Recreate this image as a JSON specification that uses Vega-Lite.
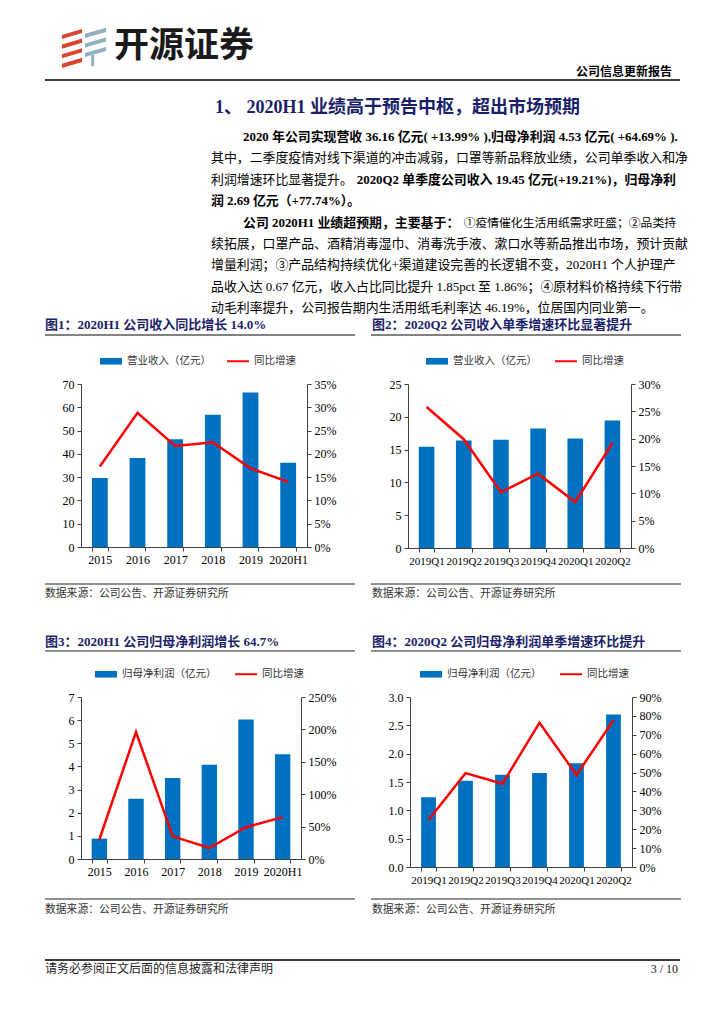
{
  "$schema": "https://vega.github.io/schema/vega-lite/v6.json",
  "padding": 0,
  "spacing": 0,
  "columns": 1,
  "align": "none",
  "background": "white",
  "resolve": {"scale": {"color": "independent"}, "legend": {"color": "independent"}},
  "config": {
    "view": {"stroke": null},
    "font": "Liberation Serif, Noto Sans CJK SC",
    "axis": {"grid": false, "domainColor": "#404040", "tickColor": "#404040", "labelFont": "Liberation Serif", "labelFontSize": 12, "labelColor": "#000000", "tickSize": 4, "labelPadding": 3},
    "concat": {"spacing": 0}
  },
  "concat": [
    {
      "width": 643,
      "height": 350,
      "resolve": {"scale": {"x": "independent", "y": "independent"}},
      "layer": [
        {
          "data": {"values": [{"k": "icon"}]},
          "mark": {"type": "point", "shape": "M-0.92,-0.5L-0.08,-0.75L-0.08,-0.58L-0.92,-0.33ZM-0.92,-0.1L-0.08,-0.35L-0.08,-0.18L-0.92,0.07ZM-0.92,0.3L-0.08,0.05L-0.08,0.22L-0.92,0.47ZM-0.92,0.7L-0.08,0.45L-0.08,0.62L-0.92,0.87Z", "size": 2304, "filled": true, "color": "#d9452f", "opacity": 1, "strokeWidth": 0},
          "encoding": {
            "x": {"field": "k", "type": "nominal", "scale": {"type": "point", "range": [3, 3]}, "axis": null},
            "y": {"field": "k", "type": "nominal", "scale": {"type": "point", "range": [47, 47]}, "axis": null}
          }
        },
        {
          "data": {"values": [{"k": "icon"}]},
          "mark": {"type": "point", "shape": "M0.04,-0.55L0.92,-0.8L0.92,-0.63L0.04,-0.38ZM0.04,-0.15L0.92,-0.4L0.92,-0.23L0.04,0.02ZM0.04,0.25L0.92,0L0.92,0.17L0.04,0.42ZM0.3,0.35L0.42,0.32L0.42,0.8L0.3,0.8Z", "size": 2304, "filled": true, "color": "#93afc0", "opacity": 1, "strokeWidth": 0},
          "encoding": {
            "x": {"field": "k", "type": "nominal", "scale": {"type": "point", "range": [3, 3]}, "axis": null},
            "y": {"field": "k", "type": "nominal", "scale": {"type": "point", "range": [47, 47]}, "axis": null}
          }
        },
        {
          "data": {"values": [{"k": "logo", "t": "开源证券"}]},
          "mark": {"type": "text", "align": "left", "baseline": "middle", "font": "Noto Sans CJK SC", "fontSize": 35, "fontWeight": "bold", "color": "#1a1a1a"},
          "encoding": {
            "x": {"field": "k", "type": "nominal", "scale": {"type": "point", "range": [33, 33]}, "axis": null},
            "y": {"field": "k", "type": "nominal", "scale": {"type": "point", "range": [46, 46]}, "axis": null},
            "text": {"field": "t"}
          }
        },
        {
          "data": {"values": [{"k": "type", "t": "公司信息更新报告"}]},
          "mark": {"type": "text", "align": "right", "baseline": "middle", "font": "Noto Sans CJK SC", "fontSize": 12, "fontWeight": "bold", "color": "#000000"},
          "encoding": {
            "x": {"field": "k", "type": "nominal", "scale": {"type": "point", "range": [591, 591]}, "axis": null},
            "y": {"field": "k", "type": "nominal", "scale": {"type": "point", "range": [72, 72]}, "axis": null},
            "text": {"field": "t"}
          }
        },
        {
          "data": {"values": [{"k": "rule"}]},
          "mark": {"type": "tick", "orient": "horizontal", "size": 635, "thickness": 1.5, "color": "#000000", "opacity": 1},
          "encoding": {
            "x": {"field": "k", "type": "nominal", "scale": {"type": "point", "range": [281.5, 281.5]}, "axis": null},
            "y": {"field": "k", "type": "nominal", "scale": {"type": "point", "range": [80, 80]}, "axis": null}
          }
        },
        {
          "data": {"values": [{"k": "title", "t": "1、 2020H1 业绩高于预告中枢，超出市场预期"}]},
          "mark": {"type": "text", "align": "left", "baseline": "middle", "fontSize": 18, "fontWeight": "bold", "color": "#1b1f6b"},
          "encoding": {
            "x": {"field": "k", "type": "nominal", "scale": {"type": "point", "range": [134, 134]}, "axis": null},
            "y": {"field": "k", "type": "nominal", "scale": {"type": "point", "range": [108, 108]}, "axis": null},
            "text": {"field": "t"}
          }
        },
        {
          "data": {"values": [
            {"ln": "L2", "pos": "start", "t": "其中，二季度疫情对线下渠道的冲击减弱，口罩等新品释放业绩，公司单季收入和净"},
            {"ln": "L3", "pos": "start", "t": "利润增速环比显著提升。"},
            {"ln": "L6", "pos": "start", "t": "续拓展，口罩产品、酒精消毒湿巾、消毒洗手液、漱口水等新品推出市场，预计贡献"},
            {"ln": "L7", "pos": "start", "t": "增量利润；③产品结构持续优化+渠道建设完善的长逻辑不变，2020H1 个人护理产"},
            {"ln": "L8", "pos": "start", "t": "品收入达 0.67 亿元，收入占比同比提升 1.85pct 至 1.86%；④原材料价格持续下行带"},
            {"ln": "L9", "pos": "start", "t": "动毛利率提升，公司报告期内生活用纸毛利率达 46.19%，位居国内同业第一。"}
          ]},
          "mark": {"type": "text", "align": "left", "baseline": "middle", "fontSize": 12.9, "color": "#000000"},
          "encoding": {
            "x": {"field": "pos", "type": "nominal", "scale": {"type": "point", "domain": ["start", "indent"], "range": [130, 162], "padding": 0}, "axis": null},
            "y": {"field": "ln", "type": "nominal", "scale": {"type": "point", "domain": ["L1", "L2", "L3", "L4", "L5", "L6", "L7", "L8", "L9"], "range": [137, 308], "padding": 0}, "axis": null},
            "text": {"field": "t"}
          }
        },
        {
          "data": {"values": [
            {"ln": "L1", "pos": "indent", "t": "2020 年公司实现营收 36.16 亿元( +13.99% ),归母净利润 4.53 亿元( +64.69% )."},
            {"ln": "L4", "pos": "start", "t": "润 2.69 亿元（+77.74%）。"},
            {"ln": "L5", "pos": "indent", "t": "公司 2020H1 业绩超预期，主要基于："}
          ]},
          "mark": {"type": "text", "align": "left", "baseline": "middle", "fontSize": 12.9, "fontWeight": "bold", "color": "#000000"},
          "encoding": {
            "x": {"field": "pos", "type": "nominal", "scale": {"type": "point", "domain": ["start", "indent"], "range": [130, 162], "padding": 0}, "axis": null},
            "y": {"field": "ln", "type": "nominal", "scale": {"type": "point", "domain": ["L1", "L2", "L3", "L4", "L5", "L6", "L7", "L8", "L9"], "range": [137, 308], "padding": 0}, "axis": null},
            "text": {"field": "t"}
          }
        },
        {
          "data": {"values": [
            {"ln": "L3", "pos": "end", "t": "2020Q2 单季度公司收入 19.45 亿元(+19.21%)，归母净利"}
          ]},
          "mark": {"type": "text", "align": "right", "baseline": "middle", "fontSize": 12.9, "fontWeight": "bold", "color": "#000000"},
          "encoding": {
            "x": {"field": "pos", "type": "nominal", "scale": {"type": "point", "range": [595, 595]}, "axis": null},
            "y": {"field": "ln", "type": "nominal", "scale": {"type": "point", "domain": ["L1", "L2", "L3", "L4", "L5", "L6", "L7", "L8", "L9"], "range": [137, 308], "padding": 0}, "axis": null},
            "text": {"field": "t"}
          }
        },
        {
          "data": {"values": [
            {"ln": "L5", "pos": "end", "t": "①疫情催化生活用纸需求旺盛；②品类持"}
          ]},
          "mark": {"type": "text", "align": "right", "baseline": "middle", "fontSize": 11.8, "color": "#000000"},
          "encoding": {
            "x": {"field": "pos", "type": "nominal", "scale": {"type": "point", "range": [595, 595]}, "axis": null},
            "y": {"field": "ln", "type": "nominal", "scale": {"type": "point", "domain": ["L1", "L2", "L3", "L4", "L5", "L6", "L7", "L8", "L9"], "range": [137, 308], "padding": 0}, "axis": null},
            "text": {"field": "t"}
          }
        },
        {
          "data": {"values": [
            {"p": "L", "t": "图1：2020H1 公司收入同比增长 14.0%"},
            {"p": "R", "t": "图2：2020Q2 公司收入单季增速环比显著提升"}
          ]},
          "mark": {"type": "text", "align": "left", "baseline": "middle", "fontSize": 13, "fontWeight": "bold", "color": "#1b1f6b"},
          "encoding": {
            "x": {"field": "p", "type": "nominal", "scale": {"type": "point", "domain": ["L", "R"], "range": [-36, 291], "padding": 0}, "axis": null},
            "y": {"field": "p", "type": "nominal", "scale": {"type": "point", "range": [325, 325]}, "axis": null},
            "text": {"field": "t"}
          }
        },
        {
          "data": {"values": [{"p": "L"}, {"p": "R"}]},
          "mark": {"type": "tick", "orient": "horizontal", "size": 310, "thickness": 1.5, "color": "#595959", "opacity": 1},
          "encoding": {
            "x": {"field": "p", "type": "nominal", "scale": {"type": "point", "domain": ["L", "R"], "range": [119, 445], "padding": 0}, "axis": null},
            "y": {"field": "p", "type": "nominal", "scale": {"type": "point", "range": [335, 335]}, "axis": null}
          }
        }
      ]
    },
    {
      "resolve": {"scale": {"color": "independent"}, "legend": {"color": "independent"}},
      "hconcat": [
        {
          "width": 226,
          "height": 163,
          "data": {"values": [
            {"p": "2015", "v": 29.6, "g": 17.3},
            {"p": "2016", "v": 38.2, "g": 28.8},
            {"p": "2017", "v": 46.3, "g": 21.7},
            {"p": "2018", "v": 56.8, "g": 22.5},
            {"p": "2019", "v": 66.3, "g": 16.9},
            {"p": "2020H1", "v": 36.16, "g": 13.99}
          ]},
          "encoding": {
            "x": {"field": "p", "type": "nominal", "sort": null, "scale": {"paddingInner": 0.58, "paddingOuter": 0.29}, "axis": {"title": null, "labelAngle": 0, "tickBand": "extent", "minExtent": 22, "maxExtent": 22, "labelOverlap": false, "labelBound": false}}
          },
          "layer": [
            {
              "mark": {"type": "bar"},
              "encoding": {
                "y": {"field": "v", "type": "quantitative", "scale": {"domain": [0, 70], "nice": false}, "axis": {"title": null, "orient": "left", "tickCount": 7, "minExtent": 81, "maxExtent": 81}},
                "color": {"datum": "营业收入（亿元）", "type": "nominal", "scale": {"domain": ["营业收入（亿元）", "同比增速"], "range": ["#0070C0", "#FF0000"]},
                  "legend": {"orient": "none", "legendX": 19, "legendY": -34, "direction": "horizontal", "title": null, "padding": 0, "symbolSize": 484, "labelFont": "Noto Sans CJK SC", "labelFontSize": 10.5, "labelColor": "#333333", "labelOffset": 5, "columnPadding": 16,
                    "encode": {"symbols": {"update": {"shape": {"signal": "datum.value === '同比增速' ? 'M-1,-0.09H1V0.09H-1Z' : 'M-1,-0.3H1V0.3H-1Z'"}, "fill": {"signal": "datum.value === '同比增速' ? '#FF0000' : '#0070C0'"}, "stroke": {"value": "transparent"}, "strokeWidth": {"value": 0}, "opacity": {"value": 1}}}}}}
              }
            },
            {
              "mark": {"type": "line", "strokeWidth": 2.5},
              "encoding": {
                "y": {"field": "g", "type": "quantitative", "scale": {"domain": [0, 35], "nice": false}, "axis": {"title": null, "orient": "right", "tickCount": 7, "labelExpr": "datum.value + '%'", "minExtent": 40, "maxExtent": 40}},
                "color": {"datum": "同比增速", "type": "nominal"}
              }
            }
          ],
          "resolve": {"scale": {"y": "independent"}}
        },
        {
          "width": 223,
          "height": 164,
          "data": {"values": [
            {"p": "2019Q1", "v": 15.45, "g": 25.8},
            {"p": "2019Q2", "v": 16.4, "g": 19.9},
            {"p": "2019Q3", "v": 16.5, "g": 10.2},
            {"p": "2019Q4", "v": 18.2, "g": 13.6},
            {"p": "2020Q1", "v": 16.7, "g": 8.4},
            {"p": "2020Q2", "v": 19.45, "g": 19.21}
          ]},
          "encoding": {
            "x": {"field": "p", "type": "nominal", "sort": null, "scale": {"paddingInner": 0.58, "paddingOuter": 0.29}, "axis": {"title": null, "labelAngle": 0, "labelFontSize": 11, "tickBand": "extent", "minExtent": 22, "maxExtent": 22, "labelOverlap": false, "labelBound": false}}
          },
          "layer": [
            {
              "mark": {"type": "bar"},
              "encoding": {
                "y": {"field": "v", "type": "quantitative", "scale": {"domain": [0, 25], "nice": false}, "axis": {"title": null, "orient": "left", "tickCount": 5, "minExtent": 61, "maxExtent": 61}},
                "color": {"datum": "营业收入（亿元）", "type": "nominal", "scale": {"domain": ["营业收入（亿元）", "同比增速"], "range": ["#0070C0", "#FF0000"]},
                  "legend": {"orient": "none", "legendX": 18, "legendY": -34, "direction": "horizontal", "title": null, "padding": 0, "symbolSize": 484, "labelFont": "Noto Sans CJK SC", "labelFontSize": 10.5, "labelColor": "#333333", "labelOffset": 5, "columnPadding": 18,
                    "encode": {"symbols": {"update": {"shape": {"signal": "datum.value === '同比增速' ? 'M-1,-0.09H1V0.09H-1Z' : 'M-1,-0.3H1V0.3H-1Z'"}, "fill": {"signal": "datum.value === '同比增速' ? '#FF0000' : '#0070C0'"}, "stroke": {"value": "transparent"}, "strokeWidth": {"value": 0}, "opacity": {"value": 1}}}}}}
              }
            },
            {
              "mark": {"type": "line", "strokeWidth": 2.5},
              "encoding": {
                "y": {"field": "g", "type": "quantitative", "scale": {"domain": [0, 30], "nice": false}, "axis": {"title": null, "orient": "right", "tickCount": 6, "labelExpr": "datum.value + '%'", "minExtent": 40, "maxExtent": 40}},
                "color": {"datum": "同比增速", "type": "nominal"}
              }
            }
          ],
          "resolve": {"scale": {"y": "independent"}}
        }
      ]
    },
    {
      "width": 643,
      "height": 93,
      "resolve": {"scale": {"x": "independent", "y": "independent"}},
      "layer": [
        {
          "data": {"values": [{"p": "L", "r": "src"}, {"p": "R", "r": "src"}, {"p": "L", "r": "cap"}, {"p": "R", "r": "cap"}]},
          "mark": {"type": "tick", "orient": "horizontal", "size": 310, "thickness": 1.5, "color": "#6e6e6e", "opacity": 1},
          "encoding": {
            "x": {"field": "p", "type": "nominal", "scale": {"type": "point", "domain": ["L", "R"], "range": [119, 445], "padding": 0}, "axis": null},
            "y": {"field": "r", "type": "nominal", "scale": {"type": "point", "domain": ["src", "cap"], "range": [14, 81], "padding": 0}, "axis": null}
          }
        },
        {
          "data": {"values": [
            {"p": "L", "t": "数据来源：公司公告、开源证券研究所"},
            {"p": "R", "t": "数据来源：公司公告、开源证券研究所"}
          ]},
          "mark": {"type": "text", "align": "left", "baseline": "middle", "font": "Noto Sans CJK SC", "fontSize": 10.8, "color": "#333333"},
          "encoding": {
            "x": {"field": "p", "type": "nominal", "scale": {"type": "point", "domain": ["L", "R"], "range": [-36, 291], "padding": 0}, "axis": null},
            "y": {"field": "p", "type": "nominal", "scale": {"type": "point", "range": [24, 24]}, "axis": null},
            "text": {"field": "t"}
          }
        },
        {
          "data": {"values": [
            {"p": "L", "t": "图3：2020H1 公司归母净利润增长 64.7%"},
            {"p": "R", "t": "图4：2020Q2 公司归母净利润单季增速环比提升"}
          ]},
          "mark": {"type": "text", "align": "left", "baseline": "middle", "fontSize": 13, "fontWeight": "bold", "color": "#1b1f6b"},
          "encoding": {
            "x": {"field": "p", "type": "nominal", "scale": {"type": "point", "domain": ["L", "R"], "range": [-36, 291], "padding": 0}, "axis": null},
            "y": {"field": "p", "type": "nominal", "scale": {"type": "point", "range": [72, 72]}, "axis": null},
            "text": {"field": "t"}
          }
        }
      ]
    },
    {
      "resolve": {"scale": {"color": "independent"}, "legend": {"color": "independent"}},
      "hconcat": [
        {
          "width": 220,
          "height": 162,
          "data": {"values": [
            {"p": "2015", "v": 0.88, "g": 30},
            {"p": "2016", "v": 2.6, "g": 196},
            {"p": "2017", "v": 3.5, "g": 35},
            {"p": "2018", "v": 4.07, "g": 17},
            {"p": "2019", "v": 6.03, "g": 49},
            {"p": "2020H1", "v": 4.53, "g": 64.69}
          ]},
          "encoding": {
            "x": {"field": "p", "type": "nominal", "sort": null, "scale": {"paddingInner": 0.58, "paddingOuter": 0.29}, "axis": {"title": null, "labelAngle": 0, "tickBand": "extent", "minExtent": 22, "maxExtent": 22, "labelOverlap": false, "labelBound": false}}
          },
          "layer": [
            {
              "mark": {"type": "bar"},
              "encoding": {
                "y": {"field": "v", "type": "quantitative", "scale": {"domain": [0, 7], "nice": false}, "axis": {"title": null, "orient": "left", "tickCount": 7, "minExtent": 76, "maxExtent": 76}},
                "color": {"datum": "归母净利润（亿元）", "type": "nominal", "scale": {"domain": ["归母净利润（亿元）", "同比增速"], "range": ["#0070C0", "#FF0000"]},
                  "legend": {"orient": "none", "legendX": 14, "legendY": -34, "direction": "horizontal", "title": null, "padding": 0, "symbolSize": 484, "labelFont": "Noto Sans CJK SC", "labelFontSize": 10.5, "labelColor": "#333333", "labelOffset": 5, "columnPadding": 18,
                    "encode": {"symbols": {"update": {"shape": {"signal": "datum.value === '同比增速' ? 'M-1,-0.09H1V0.09H-1Z' : 'M-1,-0.3H1V0.3H-1Z'"}, "fill": {"signal": "datum.value === '同比增速' ? '#FF0000' : '#0070C0'"}, "stroke": {"value": "transparent"}, "strokeWidth": {"value": 0}, "opacity": {"value": 1}}}}}}
              }
            },
            {
              "mark": {"type": "line", "strokeWidth": 2.5},
              "encoding": {
                "y": {"field": "g", "type": "quantitative", "scale": {"domain": [0, 250], "nice": false}, "axis": {"title": null, "orient": "right", "tickCount": 5, "labelExpr": "datum.value + '%'", "minExtent": 45, "maxExtent": 45}},
                "color": {"datum": "同比增速", "type": "nominal"}
              }
            }
          ],
          "resolve": {"scale": {"y": "independent"}}
        },
        {
          "width": 222,
          "height": 170,
          "data": {"values": [
            {"p": "2019Q1", "v": 1.23, "g": 24.9},
            {"p": "2019Q2", "v": 1.52, "g": 49.7},
            {"p": "2019Q3", "v": 1.63, "g": 44.1},
            {"p": "2019Q4", "v": 1.66, "g": 76.4},
            {"p": "2020Q1", "v": 1.83, "g": 48.7},
            {"p": "2020Q2", "v": 2.69, "g": 77.74}
          ]},
          "encoding": {
            "x": {"field": "p", "type": "nominal", "sort": null, "scale": {"paddingInner": 0.6, "paddingOuter": 0.3}, "axis": {"title": null, "labelAngle": 0, "labelFontSize": 11, "tickBand": "extent", "minExtent": 22, "maxExtent": 22, "labelOverlap": false, "labelBound": false}}
          },
          "layer": [
            {
              "mark": {"type": "bar"},
              "encoding": {
                "y": {"field": "v", "type": "quantitative", "scale": {"domain": [0, 3], "nice": false}, "axis": {"title": null, "orient": "left", "tickCount": 6, "format": ".1f", "minExtent": 64, "maxExtent": 64}},
                "color": {"datum": "归母净利润（亿元）", "type": "nominal", "scale": {"domain": ["归母净利润（亿元）", "同比增速"], "range": ["#0070C0", "#FF0000"]},
                  "legend": {"orient": "none", "legendX": 10, "legendY": -34, "direction": "horizontal", "title": null, "padding": 0, "symbolSize": 484, "labelFont": "Noto Sans CJK SC", "labelFontSize": 10.5, "labelColor": "#333333", "labelOffset": 5, "columnPadding": 18,
                    "encode": {"symbols": {"update": {"shape": {"signal": "datum.value === '同比增速' ? 'M-1,-0.09H1V0.09H-1Z' : 'M-1,-0.3H1V0.3H-1Z'"}, "fill": {"signal": "datum.value === '同比增速' ? '#FF0000' : '#0070C0'"}, "stroke": {"value": "transparent"}, "strokeWidth": {"value": 0}, "opacity": {"value": 1}}}}}}
              }
            },
            {
              "mark": {"type": "line", "strokeWidth": 2.5},
              "encoding": {
                "y": {"field": "g", "type": "quantitative", "scale": {"domain": [0, 90], "nice": false}, "axis": {"title": null, "orient": "right", "tickCount": 9, "labelExpr": "datum.value + '%'", "minExtent": 40, "maxExtent": 40}},
                "color": {"datum": "同比增速", "type": "nominal"}
              }
            }
          ],
          "resolve": {"scale": {"y": "independent"}}
        }
      ]
    },
    {
      "width": 643,
      "height": 136,
      "resolve": {"scale": {"x": "independent", "y": "independent"}},
      "layer": [
        {
          "data": {"values": [{"p": "L"}, {"p": "R"}]},
          "mark": {"type": "tick", "orient": "horizontal", "size": 310, "thickness": 1.5, "color": "#6e6e6e", "opacity": 1},
          "encoding": {
            "x": {"field": "p", "type": "nominal", "scale": {"type": "point", "domain": ["L", "R"], "range": [119, 445], "padding": 0}, "axis": null},
            "y": {"field": "p", "type": "nominal", "scale": {"type": "point", "range": [10, 10]}, "axis": null}
          }
        },
        {
          "data": {"values": [
            {"p": "L", "t": "数据来源：公司公告、开源证券研究所"},
            {"p": "R", "t": "数据来源：公司公告、开源证券研究所"}
          ]},
          "mark": {"type": "text", "align": "left", "baseline": "middle", "font": "Noto Sans CJK SC", "fontSize": 10.8, "color": "#333333"},
          "encoding": {
            "x": {"field": "p", "type": "nominal", "scale": {"type": "point", "domain": ["L", "R"], "range": [-36, 291], "padding": 0}, "axis": null},
            "y": {"field": "p", "type": "nominal", "scale": {"type": "point", "range": [21, 21]}, "axis": null},
            "text": {"field": "t"}
          }
        },
        {
          "data": {"values": [{"k": "footer"}]},
          "mark": {"type": "tick", "orient": "horizontal", "size": 635, "thickness": 2, "color": "#3a3a3a", "opacity": 1},
          "encoding": {
            "x": {"field": "k", "type": "nominal", "scale": {"type": "point", "range": [281.5, 281.5]}, "axis": null},
            "y": {"field": "k", "type": "nominal", "scale": {"type": "point", "range": [71, 71]}, "axis": null}
          }
        },
        {
          "data": {"values": [{"k": "disc", "t": "请务必参阅正文后面的信息披露和法律声明"}]},
          "mark": {"type": "text", "align": "left", "baseline": "middle", "font": "Noto Sans CJK SC", "fontSize": 12, "color": "#222222"},
          "encoding": {
            "x": {"field": "k", "type": "nominal", "scale": {"type": "point", "range": [-36, -36]}, "axis": null},
            "y": {"field": "k", "type": "nominal", "scale": {"type": "point", "range": [80, 80]}, "axis": null},
            "text": {"field": "t"}
          }
        },
        {
          "data": {"values": [{"k": "page", "t": "3 / 10"}]},
          "mark": {"type": "text", "align": "right", "baseline": "middle", "font": "Liberation Serif", "fontSize": 12, "color": "#222222"},
          "encoding": {
            "x": {"field": "k", "type": "nominal", "scale": {"type": "point", "range": [597, 597]}, "axis": null},
            "y": {"field": "k", "type": "nominal", "scale": {"type": "point", "range": [80, 80]}, "axis": null},
            "text": {"field": "t"}
          }
        }
      ]
    }
  ]
}
